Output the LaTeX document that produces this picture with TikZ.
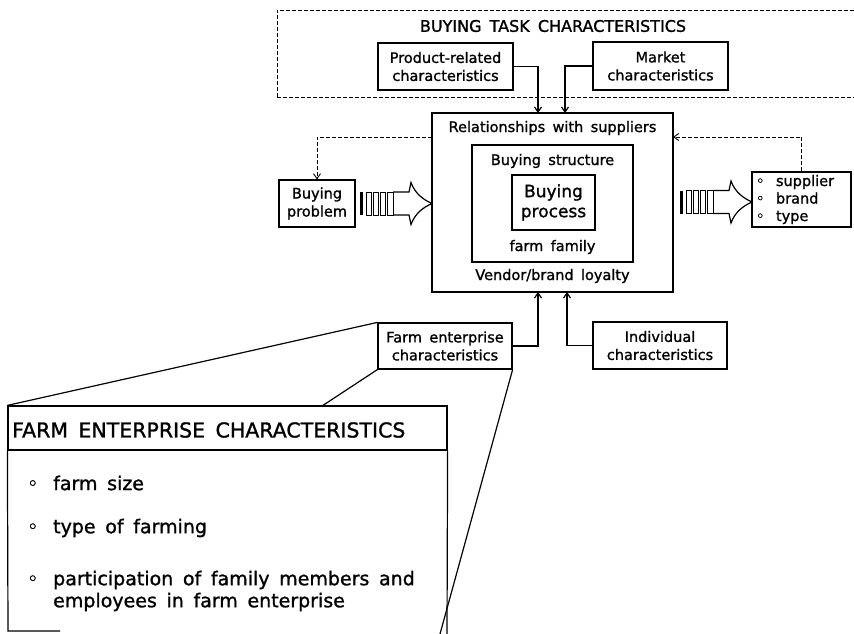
\documentclass[tikz,border=0pt]{standalone}
\usepackage{fontspec}
\setmainfont{DejaVu Sans}[WordSpace=1.6,FakeBold=1.2]
\usetikzlibrary{arrows.meta}
\tikzset{
  box/.style={draw,line width=1.2pt,align=center,inner sep=0pt,font=\fontsize{14.5}{18}\selectfont},
  txt/.style={inner sep=0pt,align=center,font=\fontsize{14.5}{18}\selectfont},
  mainbox/.style={draw,line width=2.4pt,inner sep=0pt},
  item/.style={inner sep=0pt,anchor=west,align=left,font=\fontsize{19}{22}\selectfont},
  line/.style={-{Straight Barb[length=5pt,width=7pt]},line width=1.2pt},
  dline/.style={-{Straight Barb[length=5pt,width=7pt]},line width=0.9pt,dash pattern=on 4pt off 2pt},
  stripearrow/.pic={
    \fill (0,-11.5) rectangle (3,11.5);
    \foreach \x/\w in {6/5,13/5,20/5,27/6} \draw[line width=1pt] (\x,-11.5) rectangle ++(\w,23);
    \draw[line width=1.2pt] (33,-11.5) -- (49,-11.5) -- (51,-21)
      .. controls (55,-10) and (63,-4) .. (72,0)
      .. controls (63,4) and (55,10) .. (51,21) -- (49,11.5) -- (33,11.5);
  }
}

\begin{document}
\begin{tikzpicture}[x=1pt,y=-1pt]
  \useasboundingbox (0,0) rectangle (854,634);
  % buying task
  \node[draw,line width=0.9pt,dash pattern=on 4pt off 2pt,minimum width=581pt,minimum height=87pt,inner sep=0pt] (task) at (567.5,53.5) {};
  \node[txt,font=\fontsize{16}{18}\selectfont] (tasktitle) at (553,26) {BUYING TASK CHARACTERISTICS};
  \node[box,minimum width=135pt,minimum height=47pt] (prod) at (445.5,66.5) {Product-related\\characteristics};
  \node[box,minimum width=135pt,minimum height=48pt] (mkt) at (660.5,66) {Market\\characteristics};

  % central boxes
  \node[mainbox,minimum width=241pt,minimum height=179pt] (rel) at (552.5,202.5) {};
  \node[txt] (reltitle) at (552.5,128) {Relationships with suppliers};
  \node[box,minimum width=161pt,minimum height=117pt] (struct) at (552.5,203.5) {};
  \node[txt] (structtitle) at (552.5,161) {Buying structure};
  \node[box,minimum width=83pt,minimum height=55pt,font=\fontsize{17}{20}\selectfont] (proc) at (553.5,202.5) {Buying\\process};
  \node[txt] (family) at (552.5,247) {farm family};
  \node[txt] (loyalty) at (552.5,276) {Vendor/brand loyalty};

  % in and out
  \node[box,minimum width=76pt,minimum height=47pt] (problem) at (317,203.5) {Buying\\problem};
  \node[box,minimum width=99pt,minimum height=55pt,text width=91pt,align=left,font=\fontsize{14.5}{17.5}\selectfont] (choice) at (801.5,199.5)
    {\makebox[20pt][l]{◦}supplier\\\makebox[20pt][l]{◦}brand\\\makebox[20pt][l]{◦}type};
  \pic at (360,203.5) {stripearrow};
  \pic at (680,202) {stripearrow};

  % characteristics below
  \node[box,minimum width=134pt,minimum height=46pt] (farm) at (445,346) {Farm enterprise\\characteristics};
  \node[box,minimum width=134pt,minimum height=47pt] (indiv) at (660,345.5) {Individual\\characteristics};

  \coordinate (inA) at (538,113);
  \coordinate (inB) at (565,113);
  \coordinate (inC) at (538,292);
  \coordinate (inD) at (567,292);
  \coordinate (fbL) at (432,137);
  \coordinate (fbR) at (673,137);
  \draw[line] (prod.east) -| (inA);
  \draw[line] (mkt.west) -| (inB);
  \draw[line] (farm.east) -| (inC);
  \draw[line] (indiv.west) -| (inD);
  \draw[dline] (fbL) -| (problem.north);
  \draw[dline] (choice.north) |- (fbR);

  % zoom on farm enterprise
  \node[draw,line width=1.2pt,minimum width=439pt,minimum height=44pt,inner sep=0pt] (bighead) at (227.5,428) {};
  \node[txt,anchor=west,font=\fontsize{20.5}{24}\selectfont] (bigtitle) at (12,430) {FARM ENTERPRISE CHARACTERISTICS};
  \draw[line width=1.2pt] (60,631) -- (8,631) -- (bighead.south west);
  \draw[line width=1.2pt] (bighead.south east) -- (447,634);
  \node[item] (isize) at (27,483) {\makebox[26pt][l]{◦}farm size};
  \node[item] (itype) at (27,528) {\makebox[26pt][l]{◦}type of farming};
  \node[item] (ipart) at (27,591) {\makebox[26pt][l]{◦}participation of family members and\\\hspace*{26pt}employees in farm enterprise};

  \coordinate (calloutA) at (322,406);
  \coordinate (calloutB) at (440,634);
  \draw[line width=1.2pt] (farm.north west) -- (bighead.north west);
  \draw[line width=1.2pt] (farm.south west) -- (calloutA);
  \draw[line width=1.2pt] (farm.south east) -- (calloutB);
\end{tikzpicture}
\end{document}
